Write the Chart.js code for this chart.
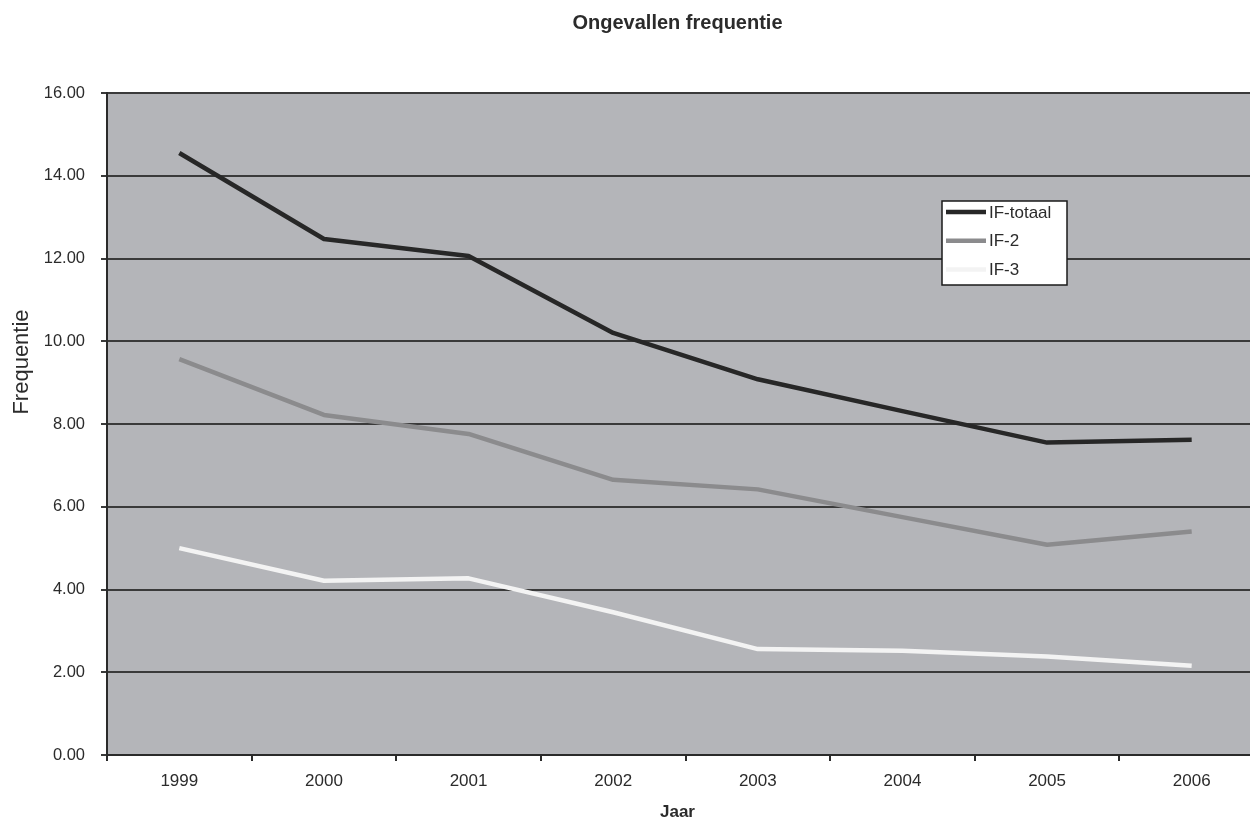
<!DOCTYPE html>
<html>
<head>
<meta charset="utf-8">
<title>Ongevallen frequentie</title>
<script src="https://cdn.jsdelivr.net/npm/chart.js@4/dist/chart.umd.min.js"></script>
<style>
  html, body { margin: 0; padding: 0; background: #ffffff; overflow: hidden; }
  #wrap { width: 1250px; height: 822px; overflow: hidden; position: relative; }
  canvas { display: block; }
</style>
</head>
<body>
<div id="wrap"><canvas id="chart" width="1265" height="822"></canvas></div>
<script>
// Jaren en ongevallenfrequenties per reeks
const years = ['1999', '2000', '2001', '2002', '2003', '2004', '2005', '2006'];
const ifTotaal = [14.55, 12.47, 12.06, 10.20, 9.08, 8.31, 7.55, 7.62];
const if2 = [9.57, 8.22, 7.76, 6.65, 6.42, 5.75, 5.08, 5.40];
const if3 = [5.00, 4.21, 4.27, 3.45, 2.56, 2.52, 2.38, 2.16];
const seriesNames = ['IF-totaal', 'IF-2', 'IF-3'];
const yTicks = [0, 2, 4, 6, 8, 10, 12, 14, 16];

const chartTitle = 'Ongevallen frequentie';
const xTitle = 'Jaar';
const yTitle = 'Frequentie';

const FONT = '"Liberation Sans", Arial, sans-serif';
const TEXT = '#2b2b2b';

// Grey plot background, drawn behind the grid
const plotBackground = {
  id: 'plotBackground',
  beforeDraw(chart) {
    const { ctx, chartArea: a } = chart;
    ctx.save();
    ctx.fillStyle = '#b4b5b9';
    ctx.fillRect(a.left, a.top, a.right - a.left, a.bottom - a.top);
    ctx.restore();
  }
};

// Titles and the boxed legend inside the plot
const annotations = {
  id: 'annotations',
  afterDraw(chart) {
    const { ctx, chartArea: a } = chart;
    const cx = (a.left + a.right) / 2 - 8;
    ctx.save();
    ctx.fillStyle = TEXT;
    ctx.textAlign = 'center';
    ctx.textBaseline = 'middle';

    ctx.font = 'bold 20px ' + FONT;
    ctx.fillText(chartTitle, cx, 23);

    ctx.font = 'bold 17px ' + FONT;
    ctx.fillText(xTitle, cx, 812);

    ctx.save();
    ctx.translate(22, 362);
    ctx.rotate(-Math.PI / 2);
    ctx.font = '22px ' + FONT;
    ctx.fillText(yTitle, 0, 0);
    ctx.restore();

    // legend box
    const bx = 942, by = 201, bw = 125, bh = 84;
    ctx.fillStyle = '#ffffff';
    ctx.fillRect(bx, by, bw, bh);
    ctx.strokeStyle = '#1a1a1a';
    ctx.lineWidth = 1.5;
    ctx.strokeRect(bx, by, bw, bh);

    ctx.font = '17px ' + FONT;
    ctx.textAlign = 'left';
    chart.data.datasets.forEach((ds, i) => {
      const y = by + 11 + i * 28.8;
      ctx.strokeStyle = ds.borderColor;
      ctx.lineWidth = ds.borderWidth;
      ctx.lineCap = 'butt';
      ctx.beginPath();
      ctx.moveTo(946, y);
      ctx.lineTo(986, y);
      ctx.stroke();
      ctx.fillStyle = TEXT;
      ctx.fillText(ds.label, 989, y + 1);
    });
    ctx.restore();
  }
};

const lineStyle = (color) => ({
  borderColor: color,
  backgroundColor: color,
  borderWidth: 4.5,
  pointRadius: 0,
  tension: 0,
  fill: false,
  borderJoinStyle: 'round',
  borderCapStyle: 'butt'
});

new Chart(document.getElementById('chart'), {
  type: 'line',
  data: {
    labels: years,
    datasets: [
      Object.assign({ label: seriesNames[0], data: ifTotaal }, lineStyle('#272727')),
      Object.assign({ label: seriesNames[1], data: if2 }, lineStyle('#8b8b8d')),
      Object.assign({ label: seriesNames[2], data: if3 }, lineStyle('#f3f3f3'))
    ]
  },
  options: {
    responsive: false,
    animation: false,
    devicePixelRatio: 1,
    layout: { padding: { top: 93, right: 1, left: 0, bottom: 0 } },
    plugins: {
      legend: { display: false },
      title: { display: false },
      tooltip: { enabled: false }
    },
    scales: {
      x: {
        type: 'category',
        offset: true,
        grid: {
          offset: true,
          drawOnChartArea: false,
          drawTicks: true,
          tickLength: 6,
          color: '#2a2a2a',
          lineWidth: 2
        },
        border: { display: true, color: '#2a2a2a', width: 2 },
        ticks: {
          color: TEXT,
          font: { family: FONT, size: 17 },
          padding: 10,
          maxRotation: 0,
          autoSkip: false
        },
        afterFit(scale) { scale.height = 67; }
      },
      y: {
        min: 0,
        max: 16,
        afterBuildTicks(scale) { scale.ticks = yTicks.map(v => ({ value: v })); },
        grid: {
          color: '#3a3a3a',
          lineWidth: 2,
          drawTicks: true,
          tickLength: 6
        },
        border: { display: true, color: '#2a2a2a', width: 2 },
        ticks: {
          color: TEXT,
          font: { family: FONT, size: 16.5 },
          padding: 16,
          callback: (v) => Number(v).toFixed(2)
        },
        afterFit(scale) { scale.width = 107; }
      }
    }
  },
  plugins: [plotBackground, annotations]
});
</script>
</body>
</html>
